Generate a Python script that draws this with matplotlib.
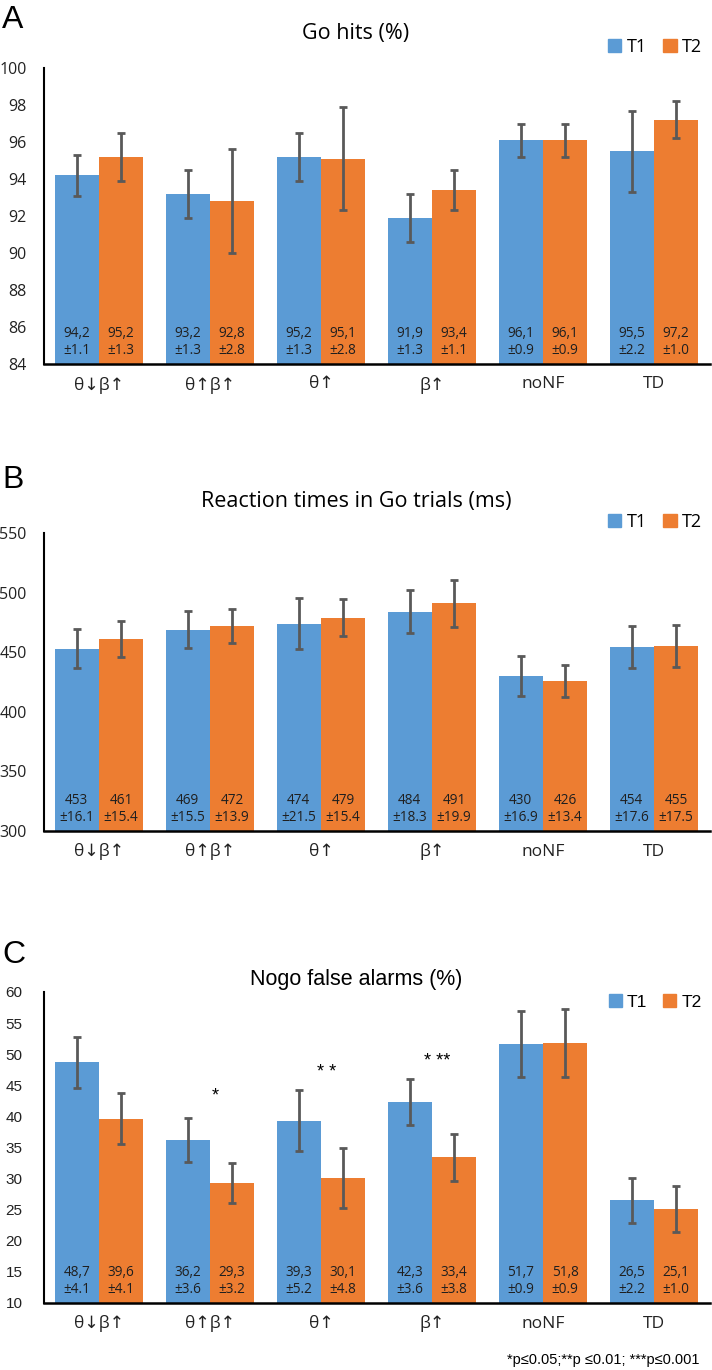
import matplotlib
matplotlib.use("Agg")
import matplotlib.pyplot as plt
from matplotlib.patches import Patch
import numpy as np

BLUE = '#5B9BD5'
ORANGE = '#ED7D31'
ERR = '#595959'

groups = ['θ↓β↑', 'θ↑β↑', 'θ↑', 'β↑', 'noNF', 'TD']

# A - Go hits (%)
hits_t1 = [94.2, 93.2, 95.2, 91.9, 96.1, 95.5]
hits_t2 = [95.2, 92.8, 95.1, 93.4, 96.1, 97.2]
hits_se1 = [1.1, 1.3, 1.3, 1.3, 0.9, 2.2]
hits_se2 = [1.3, 2.8, 2.8, 1.1, 0.9, 1.0]

# B - Reaction times (ms)
rt_t1 = [453, 469, 474, 484, 430, 454]
rt_t2 = [461, 472, 479, 491, 426, 455]
rt_se1 = [16.1, 15.5, 21.5, 18.3, 16.9, 17.6]
rt_se2 = [15.4, 13.9, 15.4, 19.9, 13.4, 17.5]

# C - Nogo false alarms (%)
fa_t1 = [48.7, 36.2, 39.3, 42.3, 51.7, 26.5]
fa_t2 = [39.6, 29.3, 30.1, 33.4, 51.8, 25.1]
fa_se1 = [4.1, 3.6, 5.2, 3.6, 0.9, 2.2]
fa_se2 = [4.1, 3.2, 4.8, 3.8, 0.9, 1.0]
# error bars as drawn in the figure (differ from the printed SE for noNF / TD)
fa_err1 = [4.1, 3.6, 4.9, 3.7, 5.3, 3.6]
fa_err2 = [4.1, 3.2, 4.8, 3.8, 5.4, 3.7]
stars = ['', '*', '* *', '* **', '', '']
star_y = [0, 43.3, 47.0, 48.8, 0, 0]

CAL = ['Open Sans', 'DejaVu Sans']
ARI = ['Liberation Sans', 'DejaVu Sans']

fig = plt.figure(figsize=(7.12, 13.7), dpi=100)


def fmt(v, dec):
    if dec == 0:
        return '%d' % v
    return ('%.1f' % v).replace('.', ',')


def panel(rect, t1, t2, se1, se2, err1, err2, ylim, step, dec, tickfont, ypad,
          title, tfont, ty, letter, ly, legy):
    ax = fig.add_axes(rect)
    x = np.arange(len(groups))
    w = 0.4
    ax.bar(x - w / 2, t1, w, color=BLUE, zorder=2)
    ax.bar(x + w / 2, t2, w, color=ORANGE, zorder=2)
    ax.errorbar(x - w / 2, t1, yerr=err1, fmt='none', ecolor=ERR, elinewidth=2,
                capsize=3, capthick=2, zorder=3)
    ax.errorbar(x + w / 2, t2, yerr=err2, fmt='none', ecolor=ERR, elinewidth=2,
                capsize=3, capthick=2, zorder=3)
    for i in range(len(groups)):
        for xx, v, s in [(x[i] - w / 2, t1[i], se1[i]), (x[i] + w / 2, t2[i], se2[i])]:
            ax.annotate(fmt(v, dec) + '\n±%.1f' % s, (xx, ylim[0]), xytext=(0, 4),
                        textcoords='offset points', ha='center', va='bottom',
                        fontsize=9.8, family=CAL, color='#1f1f1f',
                        linespacing=1.25, zorder=4)
    ax.set_xlim(-0.5, len(groups) - 0.5)
    ax.set_ylim(*ylim)
    ax.set_yticks(np.arange(ylim[0], ylim[1] + 0.1, step))
    for sp in ['top', 'right']:
        ax.spines[sp].set_visible(False)
    ax.spines['left'].set_linewidth(1.5)
    ax.spines['bottom'].set_linewidth(1.8)
    ax.tick_params(length=0)
    ax.tick_params(axis='y', pad=ypad)
    ax.tick_params(axis='x', pad=9)
    ax.set_xticks(x)
    ax.set_xticklabels(groups, family=CAL, fontsize=12.5, color='#222222')
    for lab in ax.get_yticklabels():
        lab.set_family(tickfont)
        lab.set_fontsize(11.5 if tickfont == CAL else 11)
        lab.set_color('#222222')
    fig.text(0.5, ty, title, ha='center', va='center', fontsize=15.5, family=tfont)
    fig.text(0.003, ly, letter, ha='left', va='center', fontsize=23, family=ARI)
    handles = [Patch(color=BLUE, label='T1'), Patch(color=ORANGE, label='T2')]
    fig.legend(handles=handles, loc='center', bbox_to_anchor=(0.92, legy), ncol=2,
               frameon=False, handlelength=0.75, handleheight=0.75, handletextpad=0.3,
               columnspacing=0.9, prop={'family': tfont, 'size': 13 if tfont == CAL else 12.5})
    return ax


def fy(px):
    return 1 - px / 1370


panel([43.5 / 712, fy(364), 666 / 712, 296 / 1370], hits_t1, hits_t2, hits_se1, hits_se2,
      hits_se1, hits_se2, (84, 100), 2, 1, CAL, 12, 'Go hits (%)', CAL, fy(33), 'A', fy(20), fy(47))
panel([43.5 / 712, fy(831), 666 / 712, 298 / 1370], rt_t1, rt_t2, rt_se1, rt_se2,
      rt_se1, rt_se2, (300, 550), 50, 0, CAL, 12, 'Reaction times in Go trials (ms)', CAL,
      fy(502), 'B', fy(480), fy(522))
axc = panel([43.5 / 712, fy(1303), 666 / 712, 311 / 1370], fa_t1, fa_t2, fa_se1, fa_se2,
            fa_err1, fa_err2, (10, 60), 5, 1, ARI, 15, 'Nogo false alarms (%)', ARI,
            fy(980), 'C', fy(955), fy(1002))

for i, s in enumerate(stars):
    if s:
        axc.text(i + 0.05, star_y[i], s, ha='center', va='center', fontsize=13, family=ARI)

fig.text(0.983, fy(1360), '*p≤0.05;**p ≤0.01; ***p≤0.001', ha='right', va='center',
         fontsize=10.5, family=ARI)

fig.savefig('out.png', dpi=100)
